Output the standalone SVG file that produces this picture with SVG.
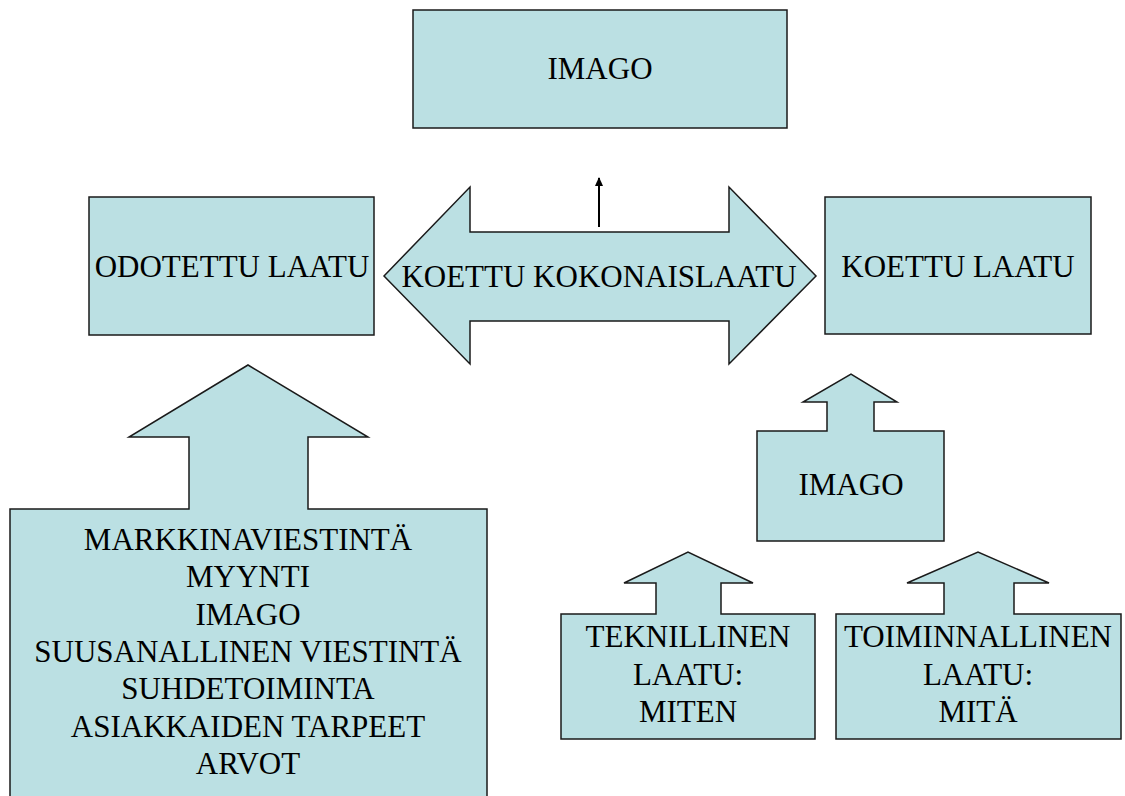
<svg xmlns="http://www.w3.org/2000/svg" width="1125" height="796" viewBox="0 0 1125 796">
<style>
.shape{fill:#BBE0E3;stroke:#1a1a1a;stroke-width:1.5;stroke-linejoin:miter}
.t{font-family:"Liberation Serif","Times New Roman",serif;font-size:31px;fill:#000;text-anchor:middle}
.conn{stroke:#000;stroke-width:2;fill:none}
</style>
<defs>
<marker id="ah" markerWidth="9" markerHeight="8" refX="8" refY="4" orient="auto" markerUnits="userSpaceOnUse" viewBox="0 0 9 8">
<path d="M0,0 L9,4 L0,8 Z" fill="#000"/>
</marker>
</defs>
<rect width="1125" height="796" fill="#fff"/>
<g id="imago-top">
<rect class="shape" x="413" y="10" width="374" height="118"/>
<text class="t" x="600" y="79">IMAGO</text>
</g>
<g id="odotettu-laatu">
<rect class="shape" x="89" y="197" width="285" height="138"/>
<text class="t" x="232" y="277">ODOTETTU LAATU</text>
</g>
<g id="koettu-laatu">
<rect class="shape" x="825" y="197" width="266" height="137"/>
<text class="t" x="958" y="277">KOETTU LAATU</text>
</g>
<g id="koettu-kokonaislaatu">
<polygon class="shape" points="384,276 470,187 470,232 729,232 729,187 816,276 729,364 729,321 470,321 470,364"/>
<text class="t" x="599" y="287">KOETTU KOKONAISLAATU</text>
</g>
<g id="connectors">
<line class="conn" x1="599" y1="227" x2="599" y2="178" marker-end="url(#ah)"/>
</g>
<g id="tekijat">
<path class="shape" d="M10,509 L189,509 L189,437 L129,437 L248,365 L368,437 L308,437 L308,509 L487,509 L487,810 L10,810 Z"/>
<text class="t" x="248" y="550">MARKKINAVIESTINTÄ</text>
<text class="t" x="248" y="587">MYYNTI</text>
<text class="t" x="248" y="625">IMAGO</text>
<text class="t" x="248" y="662">SUUSANALLINEN VIESTINTÄ</text>
<text class="t" x="248" y="699">SUHDETOIMINTA</text>
<text class="t" x="248" y="737">ASIAKKAIDEN TARPEET</text>
<text class="t" x="248" y="774">ARVOT</text>
</g>
<g id="imago-right">
<path class="shape" d="M757,431 L827,431 L827,402 L803,402 L851,374 L897,402 L874,402 L874,431 L944,431 L944,541 L757,541 Z"/>
<text class="t" x="851" y="495">IMAGO</text>
</g>
<g id="teknillinen">
<path class="shape" d="M561,614 L656,614 L656,583 L624,583 L688,552 L753,583 L721,583 L721,614 L815,614 L815,739 L561,739 Z"/>
<text class="t" x="688" y="647">TEKNILLINEN</text>
<text class="t" x="688" y="685">LAATU:</text>
<text class="t" x="688" y="722">MITEN</text>
</g>
<g id="toiminnallinen">
<path class="shape" d="M836,614 L944,614 L944,583 L907,583 L978,552 L1049,583 L1014,583 L1014,614 L1121,614 L1121,739 L836,739 Z"/>
<text class="t" x="978" y="647">TOIMINNALLINEN</text>
<text class="t" x="978" y="685">LAATU:</text>
<text class="t" x="978" y="722">MITÄ</text>
</g>
</svg>
